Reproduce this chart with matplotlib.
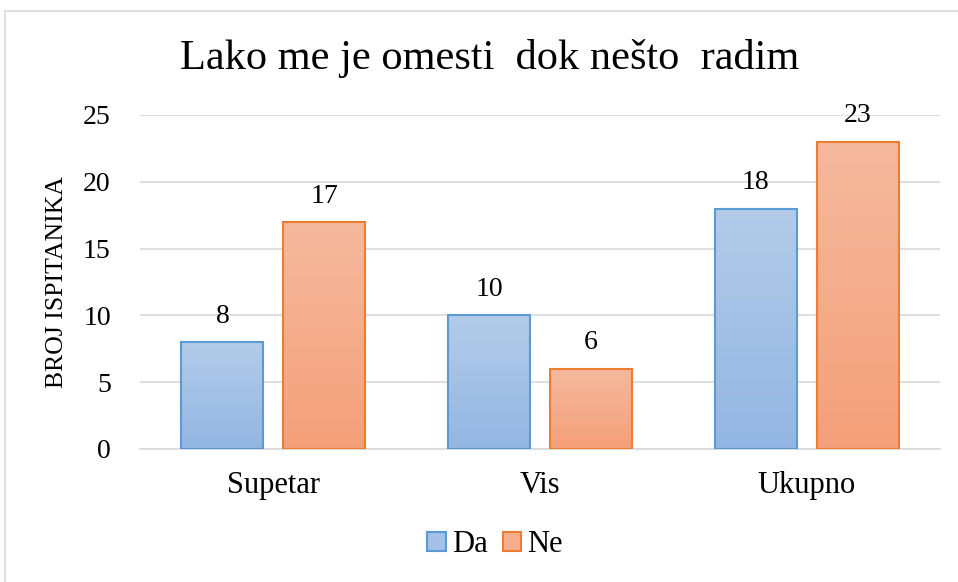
import numpy as np
import matplotlib.pyplot as plt
from matplotlib.patches import Rectangle, Patch
from matplotlib.colors import LinearSegmentedColormap

plt.rcParams['font.family'] = ['Liberation Serif', 'DejaVu Serif']

categories = ['Supetar', 'Vis', 'Ukupno']
da = [8, 10, 18]
ne = [17, 6, 23]
series_names = ['Da', 'Ne']

fig = plt.figure(figsize=(9.58, 5.82), dpi=100)
ax = fig.add_axes([140/958, 1-449/582, 800/958, (449-115)/582])

# chart frame
fig.patches.append(Rectangle((5/958, -0.01), 1.0, 1-11/582+0.01, transform=fig.transFigure,
                             fill=False, edgecolor='#d9d9d9', linewidth=1.2))

w = 0.307
off = 0.191
x = np.arange(len(categories))

blue_cmap = LinearSegmentedColormap.from_list('b', ['#93b6e2', '#b3cbe9'])
orange_cmap = LinearSegmentedColormap.from_list('o', ['#f5a07a', '#f4b99e'])
grad = np.linspace(0, 1, 256).reshape(-1, 1)

def gradient_bars(xs, vals, cmap, edge, label):
    bars = ax.bar(xs, vals, w, facecolor='none', edgecolor=edge, linewidth=1.5, zorder=3, label=label)
    for b in bars:
        x0, y0 = b.get_x(), b.get_y()
        im = ax.imshow(grad, cmap=cmap, origin='lower', aspect='auto',
                       extent=[x0, x0 + b.get_width(), y0, y0 + b.get_height()], zorder=2)
        im.set_clip_path(b)
        ax.text(x0 + b.get_width()/2, b.get_height() + 1.45, str(b.get_height()),
                ha='center', va='baseline', fontsize=20)
    return bars

gradient_bars(x - off, da, blue_cmap, '#5b9bd5', series_names[0])
gradient_bars(x + off, ne, orange_cmap, '#ed7d31', series_names[1])

ax.set_xlim(-0.5, 2.5)
ax.set_ylim(0, 25)
ax.set_yticks(range(0, 26, 5))
ax.set_xticks(x)
ax.set_xticklabels(categories)
ax.tick_params(length=0)
ax.tick_params(axis='y', pad=21, labelsize=20)
ax.tick_params(axis='x', pad=16, labelsize=22)
ax.grid(axis='y', color='#d9d9d9', linewidth=1.2, zorder=0)
ax.set_axisbelow(True)
for s in ['top', 'right', 'left']:
    ax.spines[s].set_visible(False)
ax.spines['bottom'].set_color('#d9d9d9')
ax.spines['bottom'].set_linewidth(1.2)

ax.set_ylabel('BROJ ISPITANIKA', fontsize=18.5)
ax.yaxis.set_label_coords(-0.09, 0.5)

fig.text(490/958, 1-58/582, 'Lako me je omesti  dok nešto  radim', ha='center', va='center', fontsize=30.5)

handles = [Patch(facecolor='#a3c0e6', edgecolor='#5b9bd5', linewidth=1.5, label=series_names[0]),
           Patch(facecolor='#f5ad8c', edgecolor='#ed7d31', linewidth=1.5, label=series_names[1])]
fig.legend(handles=handles, loc='center', bbox_to_anchor=(495/958, 1-545/582), ncol=2, frameon=False,
           fontsize=22, handlelength=0.6, handleheight=0.6, handletextpad=0.2, columnspacing=0.5)

fig.savefig('out.png', dpi=100)
